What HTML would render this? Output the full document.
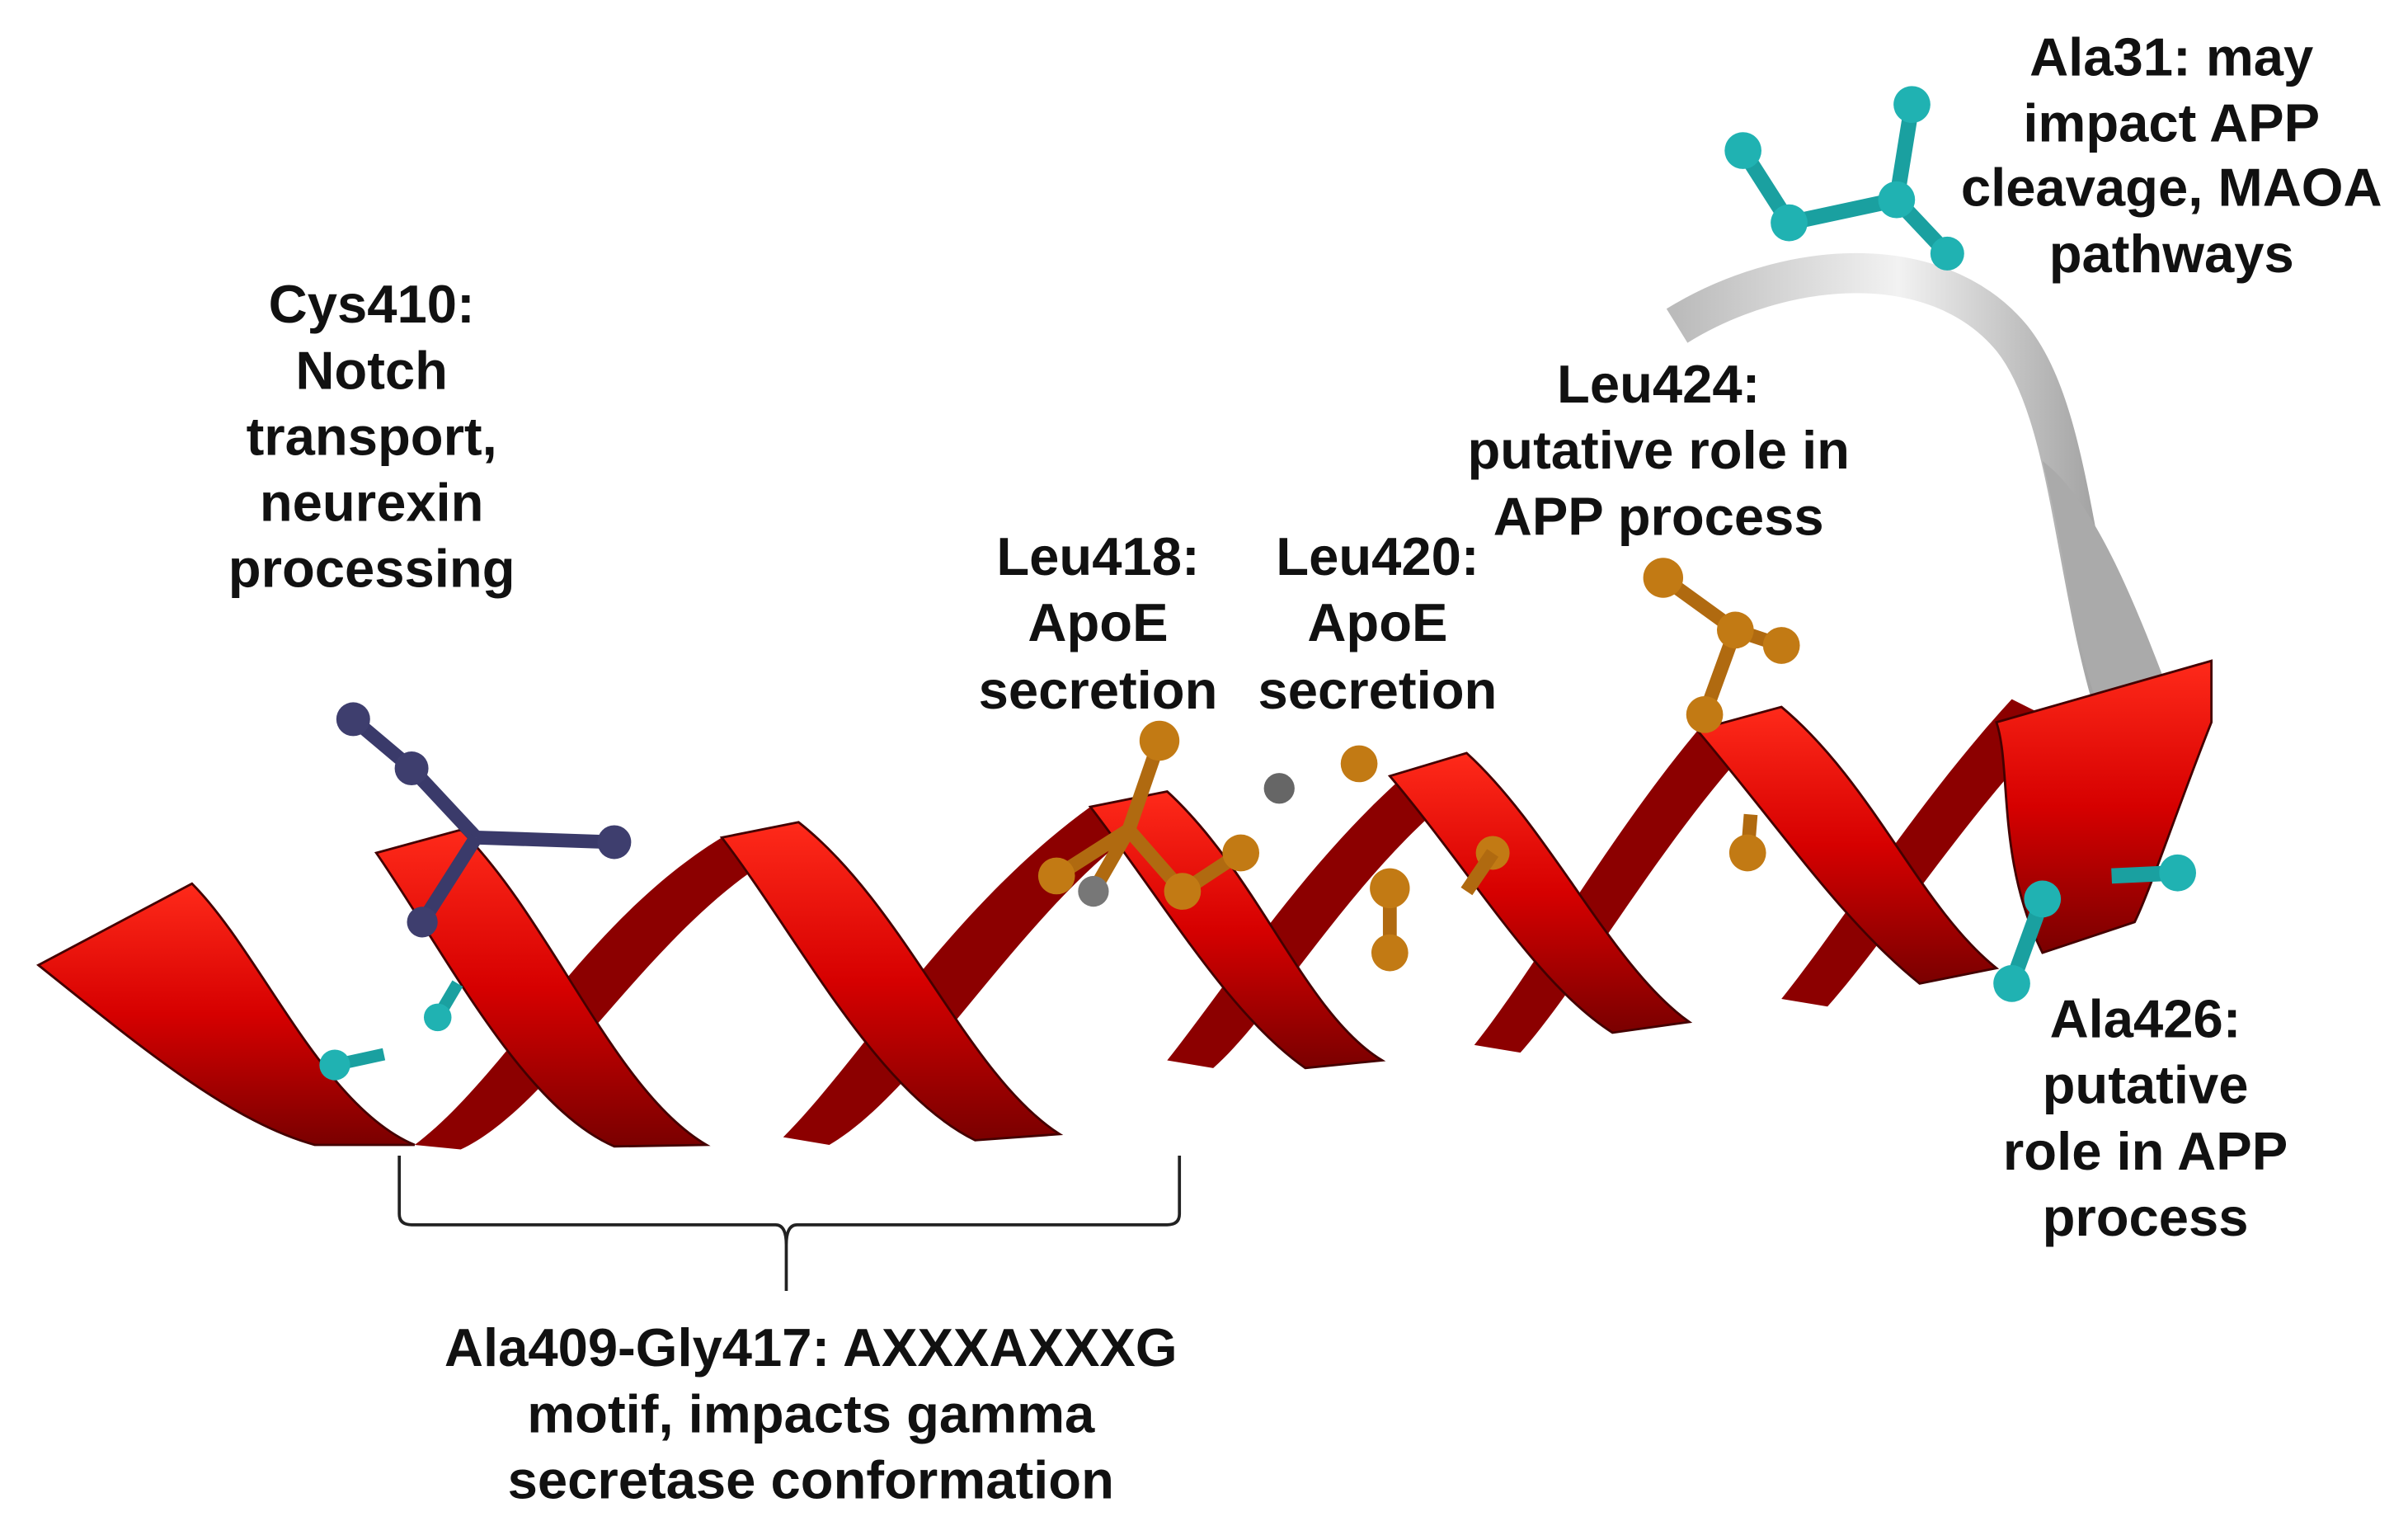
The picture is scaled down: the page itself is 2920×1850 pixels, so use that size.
<!DOCTYPE html>
<html><head><meta charset="utf-8">
<style>
html,body{margin:0;padding:0;background:#fff;}
svg{display:block;}
text{font-family:"Liberation Sans",Arial,sans-serif;font-weight:bold;font-size:35px;fill:#111;text-anchor:middle;}
</style></head>
<body>
<svg width="2920" height="1850" viewBox="0 0 1568 993" preserveAspectRatio="none" xmlns="http://www.w3.org/2000/svg">
<defs>
<linearGradient id="red" x1="0" y1="0" x2="0" y2="1">
<stop offset="0" stop-color="#ff2a1a"/><stop offset="0.5" stop-color="#d60000"/><stop offset="1" stop-color="#7a0000"/>
</linearGradient>
<linearGradient id="grey" x1="0" y1="0" x2="1" y2="0">
<stop offset="0" stop-color="#bbb"/><stop offset="0.5" stop-color="#f2f2f2"/><stop offset="1" stop-color="#999"/>
</linearGradient>
</defs>

<path d="M1092,212 C1160,170 1260,160 1310,220 C1350,270 1350,380 1380,470" fill="none" stroke="url(#grey)" stroke-width="26"/>
<path d="M1330,300 C1345,360 1350,420 1370,470 L1420,470 C1400,420 1370,330 1330,300 Z" fill="#aaa"/>

<g fill="#8c0000">
<path d="M270,745 C330,700 380,600 470,545 L500,560 C420,610 360,720 300,748 Z"/>
<path d="M510,740 C560,690 620,590 710,525 L740,540 C660,600 600,710 540,745 Z"/>
<path d="M760,690 C800,640 850,560 920,500 L950,515 C880,570 830,660 790,695 Z"/>
<path d="M960,680 C1000,630 1050,540 1110,470 L1140,485 C1080,550 1030,640 990,685 Z"/>
<path d="M1160,650 C1200,600 1250,520 1310,455 L1340,470 C1280,530 1230,610 1190,655 Z"/>
</g>
<g fill="url(#red)" stroke="#400" stroke-width="1.5">
<path d="M25,628 L125,575 C170,620 210,720 270,745 L205,745 C150,730 90,680 25,628 Z"/>
<path d="M245,555 L300,540 C360,600 400,710 460,745 L400,746 C340,720 290,620 245,555 Z"/>
<path d="M470,545 L520,535 C590,590 630,700 690,738 L635,742 C570,710 520,610 470,545 Z"/>
<path d="M710,525 L760,515 C820,570 850,660 900,690 L850,695 C800,660 760,590 710,525 Z"/>
<path d="M905,505 L955,490 C1010,540 1050,630 1100,665 L1050,672 C1000,640 960,570 905,505 Z"/>
<path d="M1105,475 L1160,460 C1220,510 1250,590 1300,630 L1250,640 C1200,600 1160,540 1105,475 Z"/>
<path d="M1300,470 L1440,430 L1440,470 C1420,520 1400,580 1390,600 L1330,620 C1300,560 1310,500 1300,470 Z"/>
</g>

<g stroke="#3a3a6a" stroke-width="9" fill="#3e3e6e">
<line x1="230" y1="468" x2="268" y2="500"/><line x1="268" y1="500" x2="310" y2="545"/><line x1="310" y1="545" x2="400" y2="548"/><line x1="310" y1="545" x2="275" y2="600"/>
<circle cx="230" cy="468" r="11" stroke="none"/><circle cx="268" cy="500" r="11" stroke="none"/><circle cx="400" cy="548" r="11" stroke="none"/><circle cx="275" cy="600" r="10" stroke="none"/>
</g>
<g stroke="#1aa0a0" stroke-width="8" fill="#20b2b2">
<line x1="218" y1="693" x2="250" y2="686"/><circle cx="218" cy="693" r="10" stroke="none"/>
<line x1="285" y1="662" x2="298" y2="640"/><circle cx="285" cy="662" r="9" stroke="none"/>
</g>
<g stroke="#b06a10" stroke-width="9" fill="#c27a14">
<line x1="755" y1="482" x2="735" y2="540"/><line x1="735" y1="540" x2="688" y2="570"/><line x1="735" y1="540" x2="770" y2="580"/><line x1="770" y1="580" x2="808" y2="555"/><line x1="735" y1="540" x2="712" y2="580"/>
<circle cx="755" cy="482" r="13" stroke="none"/><circle cx="688" cy="570" r="12" stroke="none"/><circle cx="770" cy="580" r="12" stroke="none"/><circle cx="808" cy="555" r="12" stroke="none"/>
<circle cx="712" cy="580" r="10" fill="#777" stroke="none"/><circle cx="833" cy="513" r="10" fill="#666" stroke="none"/>
</g>
<g stroke="#b06a10" stroke-width="9" fill="#c27a14">
<circle cx="885" cy="497" r="12" stroke="none"/>
<line x1="905" y1="578" x2="905" y2="620"/><circle cx="905" cy="578" r="13" stroke="none"/><circle cx="905" cy="620" r="12" stroke="none"/>
<circle cx="972" cy="555" r="11" stroke="none"/><line x1="972" y1="555" x2="955" y2="580"/>
</g>
<g stroke="#b06a10" stroke-width="9" fill="#c27a14">
<line x1="1083" y1="376" x2="1130" y2="410"/><line x1="1130" y1="410" x2="1160" y2="420"/><line x1="1130" y1="410" x2="1110" y2="465"/>
<circle cx="1083" cy="376" r="13" stroke="none"/><circle cx="1130" cy="410" r="12" stroke="none"/><circle cx="1160" cy="420" r="12" stroke="none"/><circle cx="1110" cy="465" r="12" stroke="none"/>
<line x1="1138" y1="555" x2="1140" y2="530"/><circle cx="1138" cy="555" r="12" stroke="none"/>
</g>
<g stroke="#1aa0a0" stroke-width="10" fill="#20b2b2">
<line x1="1135" y1="98" x2="1165" y2="145"/><line x1="1165" y1="145" x2="1235" y2="130"/><line x1="1235" y1="130" x2="1245" y2="68"/><line x1="1235" y1="130" x2="1268" y2="165"/>
<circle cx="1135" cy="98" r="12" stroke="none"/><circle cx="1165" cy="145" r="12" stroke="none"/><circle cx="1235" cy="130" r="12" stroke="none"/><circle cx="1245" cy="68" r="12" stroke="none"/><circle cx="1268" cy="165" r="11" stroke="none"/>
</g>
<g stroke="#1aa0a0" stroke-width="10" fill="#20b2b2">
<line x1="1330" y1="585" x2="1310" y2="640"/><line x1="1375" y1="570" x2="1418" y2="568"/>
<circle cx="1330" cy="585" r="12" stroke="none"/><circle cx="1310" cy="640" r="12" stroke="none"/><circle cx="1418" cy="568" r="12" stroke="none"/>
</g>

<path d="M260,752 L260,790 Q260,797 268,797 L505,797 Q512,797 512,810 L512,840 M512,810 Q512,797 519,797 L760,797 Q768,797 768,790 L768,752" fill="none" stroke="#222" stroke-width="2"/>

<text x="242" y="210">Cys410:</text>
<text x="242" y="253">Notch</text>
<text x="242" y="296">transport,</text>
<text x="242" y="339">neurexin</text>
<text x="242" y="382">processing</text>

<text x="1414" y="49">Ala31: may</text>
<text x="1414" y="92">impact APP</text>
<text x="1414" y="134">cleavage, MAOA</text>
<text x="1414" y="177">pathways</text>

<text x="1080" y="262">Leu424:</text>
<text x="1080" y="305">putative role in</text>
<text x="1080" y="348">APP process</text>

<text x="715" y="374">Leu418:</text>
<text x="715" y="417">ApoE</text>
<text x="715" y="461">secretion</text>

<text x="897" y="374">Leu420:</text>
<text x="897" y="417">ApoE</text>
<text x="897" y="461">secretion</text>

<text x="1397" y="675">Ala426:</text>
<text x="1397" y="718">putative</text>
<text x="1397" y="761">role in APP</text>
<text x="1397" y="804">process</text>

<text x="528" y="889">Ala409-Gly417: AXXXAXXXG</text>
<text x="528" y="932">motif, impacts gamma</text>
<text x="528" y="975">secretase conformation</text>
</svg>
</body></html>
